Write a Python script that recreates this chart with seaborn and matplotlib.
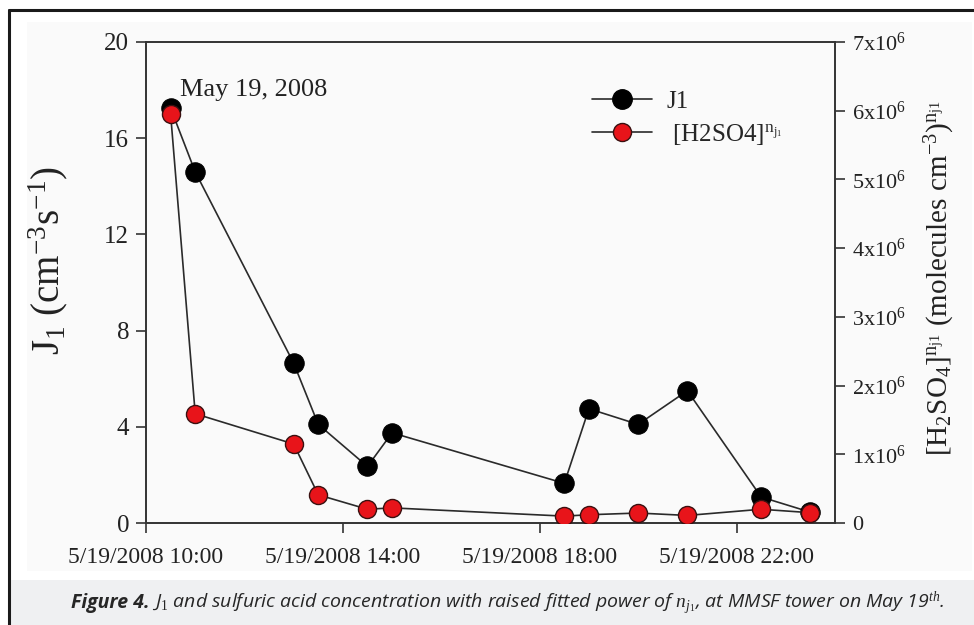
import pandas as pd
import matplotlib.pyplot as plt
import matplotlib.dates as mdates
import seaborn as sns
from matplotlib.patches import Rectangle
from matplotlib.lines import Line2D
from matplotlib.ticker import FuncFormatter, MultipleLocator

# data
times = ["10:30", "11:00", "13:00", "13:30", "14:30", "15:00",
         "18:30", "19:00", "20:00", "21:00", "22:30", "23:30"]
j1 = [17.25, 14.6, 6.65, 4.1, 2.35, 3.75, 1.65, 4.75, 4.1, 5.5, 1.08, 0.45]
h2so4 = [5.95e6, 1.59e6, 1.15e6, 0.41e6, 0.20e6, 0.22e6,
         0.10e6, 0.12e6, 0.145e6, 0.11e6, 0.20e6, 0.15e6]
xtick_hours = [10, 14, 18, 22]

df = pd.DataFrame({
    "time": pd.to_datetime(["2008-05-19 " + t for t in times]),
    "J1": j1,
    "H2SO4": h2so4,
})

sns.set_theme(style="ticks")
plt.rcParams["font.family"] = ["Liberation Serif", "DejaVu Serif"]
plt.rcParams["mathtext.fontset"] = "custom"
plt.rcParams["mathtext.rm"] = "Liberation Serif"
plt.rcParams["mathtext.it"] = "Liberation Serif:italic"

fig = plt.figure(figsize=(9.74, 6.25), dpi=100)
fig.patch.set_facecolor("white")

# background panels + frame
fig.patches.append(Rectangle((27 / 974, 1 - 571 / 625), 945 / 974, 549 / 625,
                             transform=fig.transFigure, facecolor="#fafafa",
                             edgecolor="none", zorder=-2))
fig.patches.append(Rectangle((9 / 974, 0), 965 / 974, 45 / 625,
                             transform=fig.transFigure, facecolor="#eff0f2",
                             edgecolor="none", zorder=-2))
fig.add_artist(Line2D([9 / 974, 9 / 974], [0, 1 - 10 / 625], transform=fig.transFigure,
                      color="#1a1a1a", lw=2.2))
fig.add_artist(Line2D([9 / 974, 1], [1 - 10 / 625, 1 - 10 / 625], transform=fig.transFigure,
                      color="#1a1a1a", lw=2.2))

ax = fig.add_axes([146 / 974, 1 - 523 / 625, (835 - 146) / 974, (523 - 42) / 625])
ax.patch.set_alpha(0)
ax2 = ax.twinx()

sns.lineplot(data=df, x="time", y="J1", ax=ax, color="#2a2a2a", lw=1.2,
             marker="o", markersize=14, markerfacecolor="black",
             markeredgecolor="black", zorder=3)
sns.lineplot(data=df, x="time", y="H2SO4", ax=ax2, color="#2a2a2a", lw=1.2,
             marker="o", markersize=13, markerfacecolor="#e8141a",
             markeredgecolor="#3a1010", markeredgewidth=1.0, zorder=4)

ax.set_xlim(pd.Timestamp("2008-05-19 10:00"), pd.Timestamp("2008-05-20 00:00"))
ax.set_ylim(0, 20)
ax2.set_ylim(0, 7e6)
ax.yaxis.set_major_locator(MultipleLocator(4))
ax2.yaxis.set_major_locator(MultipleLocator(1e6))
ax.xaxis.set_major_locator(mdates.HourLocator(byhour=xtick_hours))
ax.xaxis.set_major_formatter(FuncFormatter(
    lambda v, p: (lambda d: f"{d.month}/{d.day}/{d.year} {d:%H:%M}")(mdates.num2date(v))))
ax2.yaxis.set_major_formatter(FuncFormatter(
    lambda v, p: "0" if v == 0 else f"{int(round(v / 1e6))}x10$^{{6}}$"))

for a in (ax, ax2):
    for s in a.spines.values():
        s.set_color("#333333")
        s.set_linewidth(1.2)
    a.tick_params(direction="out", length=7, width=1.2, color="#333333",
                  labelsize=16, labelcolor="#222222", pad=5)
ax.tick_params(axis="x", pad=10, labelsize=17)
ax.tick_params(axis="y", labelsize=18)

ax.set_xlabel("")
ax.set_ylabel("J$_1$ (cm$^{-3}$s$^{-1}$)", fontsize=28, color="#222222")
ax.yaxis.set_label_coords(-0.11, 0.545)
ax2.set_ylabel("[H$_2$SO$_4$]$^{\\mathrm{n}_{\\mathrm{j1}}}$ (molecules cm$^{-3}$)"
               "$^{\\mathrm{n}_{\\mathrm{j1}}}$",
               fontsize=21, color="#222222")
ax2.yaxis.set_label_coords(1.128, 0.51)

ax.text(pd.Timestamp("2008-05-19 10:42"), 18.0, "May 19, 2008", fontsize=19,
        color="#222222", va="center", ha="left")

handles = [
    Line2D([], [], color="#2a2a2a", lw=1.2, marker="o", markersize=14,
           markerfacecolor="black", markeredgecolor="black"),
    Line2D([], [], color="#2a2a2a", lw=1.2, marker="o", markersize=13,
           markerfacecolor="#e8141a", markeredgecolor="#3a1010"),
]
fig.legend(handles, ["J1", " [H2SO4]$^{\\mathrm{n}_{\\mathrm{j}_1}}$"], loc="upper left",
           bbox_to_anchor=(569 / 974, 1 - 68 / 625), frameon=False, fontsize=18,
           handlelength=2.4, handletextpad=0.6, labelspacing=0.35)

# caption
t1 = fig.text(0.073, 1 - 603 / 625, "Figure 4.", fontsize=14, fontweight="bold",
              fontstyle="italic", family="Open Sans", va="center", ha="left")
ax2.annotate(" J$_1$ and sulfuric acid concentration with raised fitted power of "
             "$n_{j_1}$, at MMSF tower on May 19$^{th}$.",
             xy=(1, 0.5), xycoords=t1, va="center", ha="left",
             fontsize=14, fontstyle="italic", family="Open Sans",
             annotation_clip=False)

fig.savefig("out.png", dpi=100)
